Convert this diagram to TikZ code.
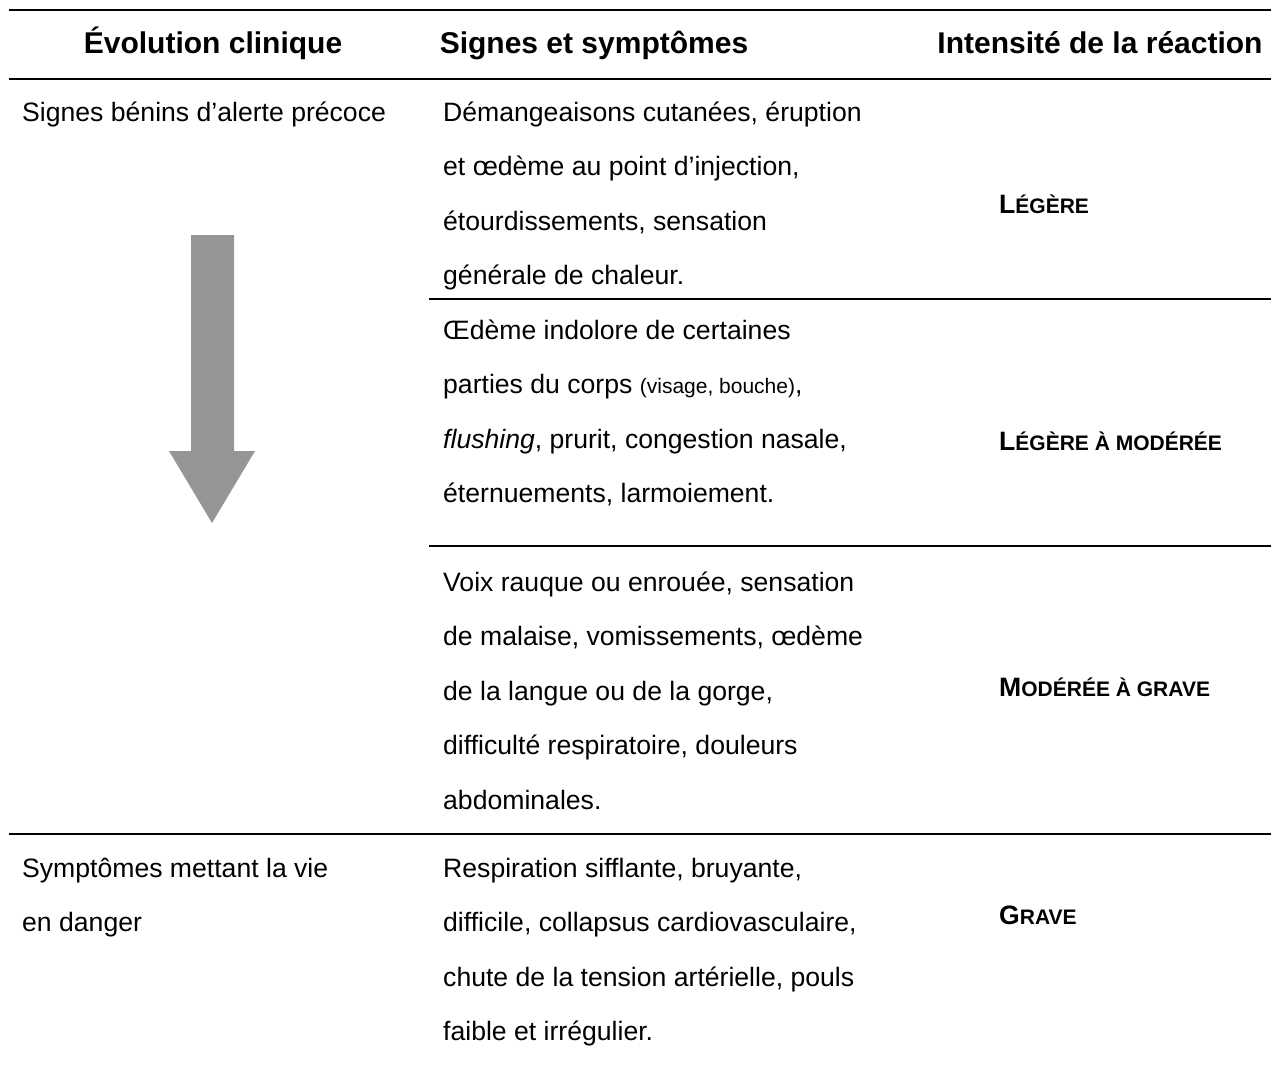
\documentclass[tikz,border=0pt]{standalone}
\usepackage{fontspec}
\setmainfont{Liberation Sans}
\definecolor{arrowgray}{RGB}{150,150,150}
\newcommand{\petitcap}[2]{#1{\fontsize{21}{25}\selectfont #2}}

\begin{document}
\begin{tikzpicture}[x=1pt,y=-1pt,
    head/.style={font=\fontsize{30}{34}\selectfont\bfseries, anchor=base, inner sep=0pt},
    body/.style={font=\fontsize{26.6}{32}\selectfont, anchor=base west, inner sep=0pt},
    level/.style={font=\fontsize{26.6}{32}\selectfont\bfseries, anchor=base west, inner sep=0pt},
    rule/.style={line width=2pt}]
        \useasboundingbox (0,0) rectangle (1271,1068); % page size
        % header
        \node[head] (hevo) at (213,53) {Évolution clinique};
        \node[head] (hsig) at (594,53) {Signes et symptômes};
        \node[head] (hint) at (1100,53) {Intensité de la réaction};
        \coordinate (ra) at (9,10);  \coordinate (rb) at (1271,10);
        \coordinate (rc) at (9,79);  \coordinate (rd) at (1271,79);
        \draw[rule] (ra) -- (rb); % top rule
        \draw[rule] (rc) -- (rd); % rule under header
        % first column
        \node[body] (evoa) at (22,121) {Signes bénins d’alerte précoce};
        \node[body] (evob1) at (22,877) {Symptômes mettant la vie};
        \node[body] (evob2) at (22,931.5) {en danger};
        \fill[arrowgray] (191,235) -- (234,235) -- (234,451) -- (255,451)
            -- (212,523) -- (169,451) -- (191,451) -- cycle; % evolution arrow
        % second column
        \foreach \txt [count=\i] in {{Démangeaisons cutanées, éruption},
            {et œdème au point d’injection,},{étourdissements, sensation},
            {générale de chaleur.}}
            \node[body] (syma\i) at (443,121+54.5*\i-54.5) {\txt};
        \foreach \txt [count=\i] in {{Œdème indolore de certaines},
            {parties du corps {\fontsize{21}{25}\selectfont(visage, bouche)},},
            {\textit{flushing}, prurit, congestion nasale,},
            {éternuements, larmoiement.}}
            \node[body] (symb\i) at (443,339+54.5*\i-54.5) {\txt};
        \foreach \txt [count=\i] in {{Voix rauque ou enrouée, sensation},
            {de malaise, vomissements, œdème},{de la langue ou de la gorge,},
            {difficulté respiratoire, douleurs},{abdominales.}}
            \node[body] (symc\i) at (443,591+54.5*\i-54.5) {\txt};
        \foreach \txt [count=\i] in {{Respiration sifflante, bruyante,},
            {difficile, collapsus cardiovasculaire,},
            {chute de la tension artérielle, pouls},{faible et irrégulier.}}
            \node[body] (symd\i) at (443,877+54.5*\i-54.5) {\txt};
        \coordinate (re) at (429,299); \coordinate (rf) at (1271,299);
        \coordinate (rg) at (429,546); \coordinate (rh) at (1271,546);
        \coordinate (ri) at (9,834);   \coordinate (rj) at (1271,834);
        \draw[rule] (re) -- (rf); % between rows
        \draw[rule] (rg) -- (rh);
        \draw[rule] (ri) -- (rj);
        % third column
        \node[level] (lva) at (999,213) {\petitcap{L}{ÉGÈRE}};
        \node[level] (lvb) at (999,450) {\petitcap{L}{ÉGÈRE À MODÉRÉE}};
        \node[level] (lvc) at (999,696) {\petitcap{M}{ODÉRÉE À GRAVE}};
        \node[level] (lvd) at (999,924) {\petitcap{G}{RAVE}};
\end{tikzpicture}
\end{document}
